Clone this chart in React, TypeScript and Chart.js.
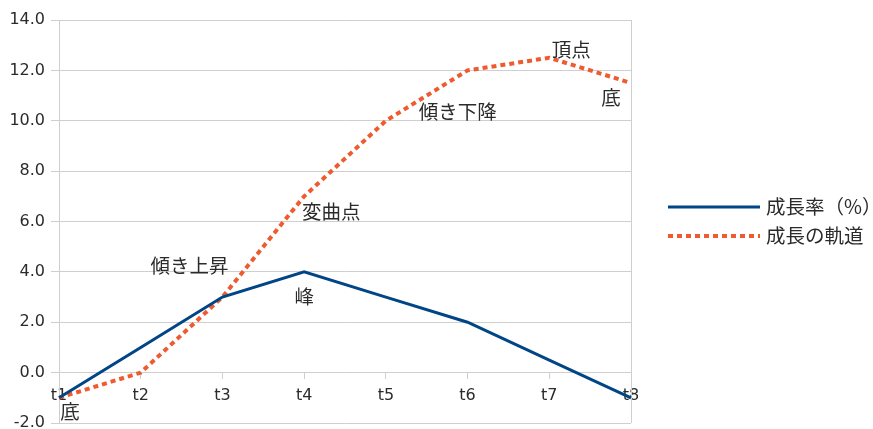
import { useEffect, useRef } from 'react';
import { Chart, registerables } from 'chart.js';

Chart.register(...registerables);

// Categories and series values
const categories = ['t1', 't2', 't3', 't4', 't5', 't6', 't7', 't8'];
const growthRate = [-1, 1, 3, 4, 3, 2, 0.5, -1];
const trajectory = [-1, 0, 3, 7, 10, 12, 12.5, 11.5];
const seriesNames = ['成長率（%）', '成長の軌道'];

// Value axis range
const yMin = -2;
const yMax = 14;
const yStep = 2;

// Point notes: text, which series, which category index
const noteTexts = ['底', '傾き上昇', '峰', '変曲点', '傾き下降', '頂点', '底'];
const noteSeries = [0, 1, 0, 1, 1, 1, 1];
const noteIndex = [0, 2, 3, 3, 4, 6, 7];

// Placement of each note relative to its point (px)
const noteOffsets: [number, number][] = [
  [11, 14],
  [-33, -31],
  [0, 25],
  [27, 15],
  [72, -9],
  [22, -8],
  [-20, 15],
];

const BLUE = '#004586';
const ORANGE = '#ef5a2f';
const GRID = '#cfcfcf';
const TEXT = '#2b2b2b';
const LATIN = '"DejaVu Sans", "Noto Sans CJK JP", sans-serif';
const CJK = '"Noto Sans CJK JP", "DejaVu Sans", sans-serif';
const CJK_SIZE = 19.5;

const frameAndNotes = {
  id: 'frameAndNotes',
  beforeDatasetsDraw(chart: any) {
    const { ctx, chartArea } = chart;
    ctx.save();
    ctx.strokeStyle = GRID;
    ctx.lineWidth = 1;
    const x = Math.round(chartArea.right) + 0.5;
    ctx.beginPath();
    ctx.moveTo(x, chartArea.top);
    ctx.lineTo(x, chartArea.bottom);
    ctx.stroke();
    ctx.restore();
  },
  afterDatasetsDraw(chart: any) {
    const { ctx } = chart;
    ctx.save();
    ctx.font = `${CJK_SIZE}px ${CJK}`;
    ctx.fillStyle = TEXT;
    ctx.textAlign = 'center';
    ctx.textBaseline = 'middle';
    noteTexts.forEach((text, i) => {
      const el = chart.getDatasetMeta(noteSeries[i]).data[noteIndex[i]];
      if (!el) return;
      const [dx, dy] = noteOffsets[i];
      ctx.fillText(text, el.x + dx, el.y + dy);
    });
    ctx.restore();
  },
  afterDraw(chart: any) {
    const { ctx, chartArea } = chart;
    const datasets = chart.data.datasets;
    const rowGap = 29;
    const cy = (chartArea.top + chartArea.bottom) / 2 - ((datasets.length - 1) * rowGap) / 2;
    const x0 = chartArea.right + 37;
    const x1 = x0 + 92;
    ctx.save();
    datasets.forEach((ds: any, i: number) => {
      const y = cy + i * rowGap;
      ctx.strokeStyle = ds.borderColor;
      ctx.lineWidth = ds.borderWidth;
      ctx.setLineDash(ds.borderDash || []);
      ctx.lineCap = 'butt';
      ctx.beginPath();
      ctx.moveTo(x0, y);
      ctx.lineTo(x1, y);
      ctx.stroke();
      ctx.setLineDash([]);
      ctx.font = `${CJK_SIZE}px ${CJK}`;
      ctx.fillStyle = TEXT;
      ctx.textAlign = 'left';
      ctx.textBaseline = 'middle';
      ctx.fillText(ds.label, x1 + 6, y);
    });
    ctx.restore();
  },
};

export default function App() {
  const canvasRef = useRef<HTMLCanvasElement | null>(null);

  useEffect(() => {
    if (!canvasRef.current) return;
    const chart = new Chart(canvasRef.current, {
      type: 'line',
      data: {
        labels: categories,
        datasets: [
          {
            label: seriesNames[0],
            data: growthRate,
            borderColor: BLUE,
            backgroundColor: BLUE,
            borderWidth: 3,
            pointRadius: 0,
            tension: 0,
            clip: false as any,
          },
          {
            label: seriesNames[1],
            data: trajectory,
            borderColor: ORANGE,
            backgroundColor: ORANGE,
            borderWidth: 4,
            borderDash: [5, 4],
            borderCapStyle: 'butt',
            pointRadius: 0,
            tension: 0,
            clip: false as any,
          },
        ],
      },
      options: {
        responsive: false,
        animation: false,
        layout: { padding: { left: 0, top: 20, right: 242, bottom: 6 } },
        plugins: {
          legend: { display: false },
          tooltip: { enabled: false },
        },
        scales: {
          x: {
            type: 'category',
            offset: false,
            position: { y: 0 } as any,
            ticks: {
              color: TEXT,
              font: { family: LATIN, size: 16 },
              padding: 8,
              maxRotation: 0,
              autoSkip: false,
            },
            grid: { drawOnChartArea: false, tickLength: 6, color: GRID },
            border: { display: false },
            afterFit: (s: any) => {
              s.paddingLeft = 0;
              s.paddingRight = 0;
            },
          },
          y: {
            min: yMin,
            max: yMax,
            ticks: {
              stepSize: yStep,
              color: TEXT,
              font: { family: LATIN, size: 16 },
              padding: 6,
              callback: (v: any) => Number(v).toFixed(1),
            },
            grid: { color: GRID, tickLength: 8 },
            border: { color: GRID },
            afterFit: (s: any) => {
              s.width = 59;
              s.paddingTop = 0;
              s.paddingBottom = 0;
            },
          },
        },
      },
      plugins: [frameAndNotes],
    });
    return () => chart.destroy();
  }, []);

  return (
    <div style={{ position: 'fixed', left: 0, top: 0, width: 873, height: 429, background: '#fff' }}>
      <canvas ref={canvasRef} width={873} height={429} style={{ display: 'block' }} />
    </div>
  );
}
